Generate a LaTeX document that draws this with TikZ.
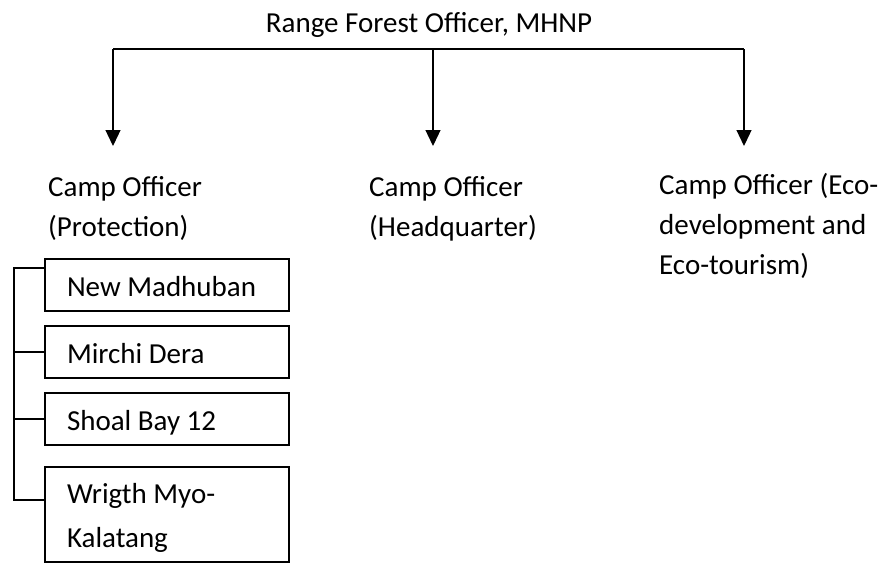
\documentclass[tikz,border=0pt]{standalone}
\usepackage{fontspec}
\setmainfont{Carlito}
\usetikzlibrary{arrows.meta,positioning}

\tikzset{
  camp/.style={anchor=base west, align=left, inner sep=0pt, font=\fontsize{29}{40}\selectfont},
  station/.style={draw, line width=1.3pt, anchor=north west, outer sep=0pt,
    minimum width=244pt, text width=200pt, inner xsep=22pt, inner ysep=7pt,
    text height=30pt, text depth=8pt, align=flush left, font=\fontsize{29}{44}\selectfont},
  link/.style={line width=1.3pt},
  down/.style={line width=1.3pt, -{Triangle[width=15pt,length=16pt]}}
}

\begin{document}
\begin{tikzpicture}[x=1pt, y=-1pt]

    \clip (0,0) rectangle (888,563);

    % Range officer and the bar below
    \node[anchor=base, inner sep=0pt, font=\fontsize{29}{34}\selectfont] (rfo) at (429,32) {Range Forest Officer, MHNP};

    \coordinate (barW) at (113,49);
    \coordinate (barM) at (433,49);
    \coordinate (barE) at (744,49);

    \coordinate (tipW) at (113,146);
    \coordinate (tipM) at (433,146);
    \coordinate (tipE) at (744,146);

    \draw[link] (barW) -- (barE);
    \draw[down] (barW) -- (tipW);
    \draw[down] (barM) -- (tipM);
    \draw[down] (barE) -- (tipE);

    % Camp officers (placed at the baseline of their last line)
    \node[camp] (protect) at (48,236) {Camp Officer\\(Protection)};
    \node[camp] (hq) at (369,236) {Camp Officer\\(Headquarter)};
    \node[camp] (eco) at (659,274) {Camp Officer (Eco-\\development and\\Eco-tourism)};

    % Protection camps
    \node[station] (madhuban) at (45,259) {New Madhuban};
    \node[station] (mirchi) at (45,326) {Mirchi Dera};
    \node[station] (shoal) at (45,393) {Shoal Bay 12};
    \node[station, text height=29pt, text depth=52pt] (wright) at (45,467) {Wrigth Myo-\\Kalatang};

    \coordinate (trunk) at (14,268);
    \coordinate (trunkend) at (14,500);

    \draw[link] (madhuban.west |- trunk) -- (trunk) -- (trunkend) -- (wright.west |- trunkend);
    \draw[link] (mirchi.west) -- (mirchi.west -| trunk);
    \draw[link] (shoal.west) -- (shoal.west -| trunk);

\end{tikzpicture}
\end{document}
